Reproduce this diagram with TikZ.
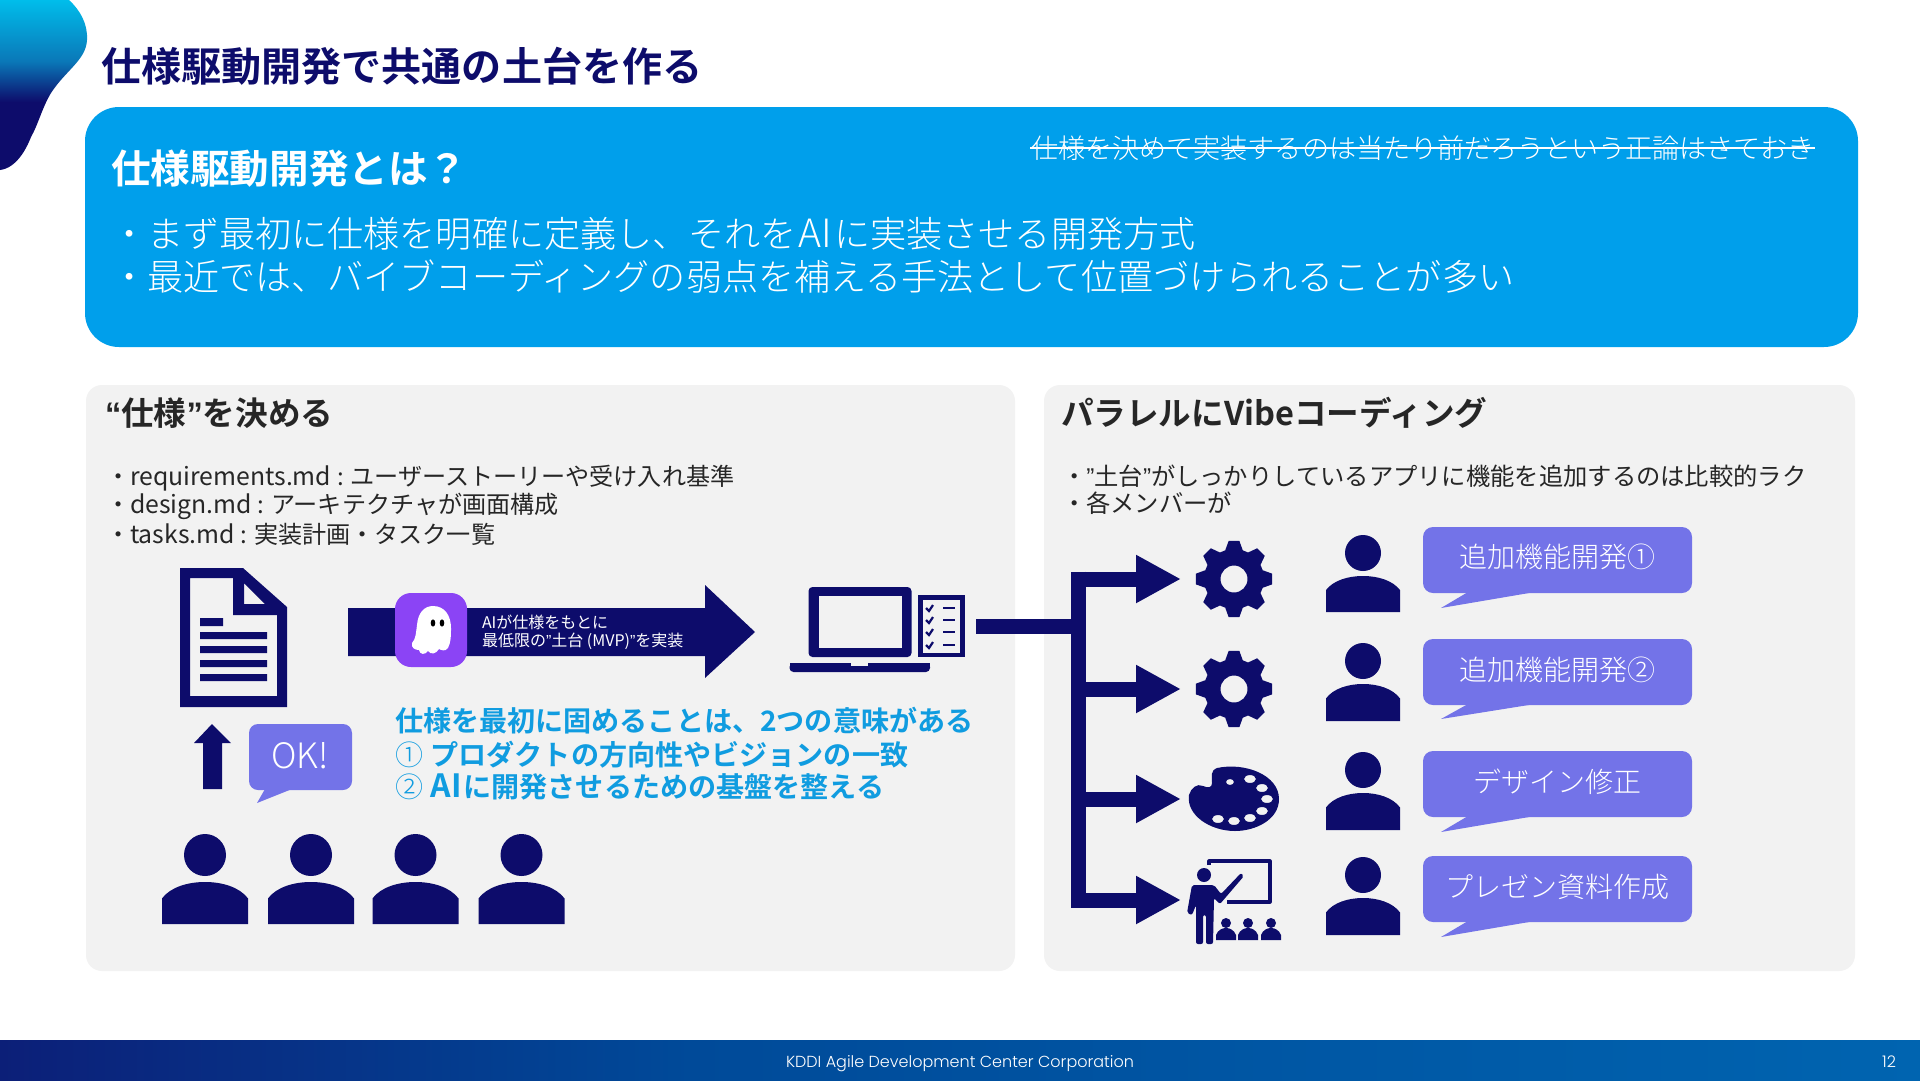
\documentclass[tikz,border=0pt]{standalone}
\usepackage{fontspec}
\usetikzlibrary{arrows.meta,calc}
\setmainfont{Noto Sans CJK JP Light}[BoldFont={Noto Sans CJK JP Bold}]
\newfontfamily\regf{Noto Sans CJK JP}
\newfontfamily\qfont{Liberation Sans}
\newfontfamily\footfont{Poppins Light}
\definecolor{navy}{HTML}{0D0C6B}
\definecolor{skyb}{HTML}{009FEB}
\definecolor{panelg}{HTML}{F2F2F2}
\definecolor{bubble}{HTML}{7373E8}
\definecolor{ghostp}{HTML}{8B44F5}
\definecolor{tealtext}{HTML}{109CE0}
\definecolor{darktext}{HTML}{262626}
\definecolor{blobtop}{HTML}{00BDEB}
\definecolor{blobmid}{HTML}{0A78B8}
\definecolor{footl}{HTML}{0C1F78}
\definecolor{footm}{HTML}{004A99}
\definecolor{footr}{HTML}{0064B0}
\pgfdeclareverticalshading{blobshade}{100bp}{color(0bp)=(navy);color(45bp)=(navy);color(57bp)=(blobmid);color(75bp)=(blobtop);color(100bp)=(blobtop)}
\pgfdeclarehorizontalshading{footshade}{100bp}{color(0bp)=(footl);color(25bp)=(footl);color(43bp)=(footm);color(75bp)=(footr);color(100bp)=(footr)}
\newcommand\fs[1]{\fontsize{#1}{#1}\selectfont}
\newcommand\qo{{\qfont “}}
\newcommand\qc{{\qfont ”}}
% cx, head cy, head r, half width, body top, body bottom
\newcommand\personfig[6]{%
  \fill[navy] (#1,#2) circle[radius=#3];
  \fill[navy] ({#1-#4},#6) -- ({#1-#4},{#5+0.39*(#6-#5)})
    .. controls ({#1-0.8*#4},{#5+0.12*(#6-#5)}) and ({#1-0.4*#4},#5) .. (#1,#5)
    .. controls ({#1+0.4*#4},#5) and ({#1+0.8*#4},{#5+0.12*(#6-#5)}) .. ({#1+#4},{#5+0.39*(#6-#5)})
    -- ({#1+#4},#6) -- cycle;}
% cx cy
\newcommand\gearfig[2]{%
  \begin{scope}[shift={(#1,#2)}]
  \fill[navy,even odd rule] (-17:30)
    \foreach \a in {0,45,...,315}{ -- ({\a-17}:30) -- ({\a-8}:38.5) -- ({\a+8}:38.5) -- ({\a+17}:30) }
    -- cycle (0,0) circle[radius=13.5];
  \end{scope}}
% left, top, bottom, tail tip y
\newcommand\bubblefig[4]{%
  \fill[bubble,rounded corners=10pt] (1423,#2) rectangle (1692,#3);
  \fill[bubble] (1468,{#3-1}) -- (1441,#4) -- (1535,{#3-1}) -- cycle;}
\newcommand\mdgap{\hspace{6pt}:\hspace{6.5pt}}
\tikzset{
  txt/.style={inner sep=0pt,outer sep=0pt,anchor=base west},
  ctxt/.style={inner sep=0pt,outer sep=0pt,anchor=base},
  flow/.style={draw=navy,line width=15pt},
  flowtip/.style={flow,-{Triangle[length=45pt,width=45pt,fill=navy]}}
}
\begin{document}
\begin{tikzpicture}[x=1pt,y=-1pt]
\useasboundingbox (0,0) rectangle (1920,1080);
\fill[white] (0,0) rectangle (1920,1080);
% corner blob
\shade[shading=blobshade] (0,0) -- (69,0) .. controls (80,10) and (88,24) .. (87,40)
  .. controls (86,60) and (66,70) .. (51,93) .. controls (42,108) and (38,125) .. (31,137)
  .. controls (26,150) and (16,168) .. (0,170) -- cycle;
% footer
\shade[shading=footshade] (0,1040) rectangle (1920,1080);
\node[ctxt,text=white,font=\footfont\fs{16}] (foot) at (960,1067) {KDDI Agile Development Center Corporation};
\node[ctxt,text=white,font=\footfont\fs{16}] (pageno) at (1889,1067) {12};
% title
\node[txt,text=navy,font=\bfseries\fs{40.1}] (title) at (101,81) {仕様駆動開発で共通の土台を作る};
% blue box
\fill[skyb,rounded corners=34pt] (85,107) rectangle (1858,347);
\node[txt,text=white,font=\bfseries\fs{39.6}] (bluehead) at (111,183) {仕様駆動開発とは？};
\node[txt,text=white,font=\fs{27.1}] (aside) at (1031,158) {仕様を決めて実装するのは当たり前だろうという正論はさておき};
\draw[white,line width=1.5pt] ($(aside.base west)+(-1,-10)$) -- ($(aside.base east)+(1,-10)$);
\node[txt,text=white,font=\fs{36.1}] (blueA) at (111,247) {・まず最初に仕様を明確に定義し、それを\hspace{2pt}{\fs{39}AI}\hspace{2pt}に実装させる開発方式};
\node[txt,text=white,font=\fs{36.1}] (blueB) at (111,290) {・最近では、バイブコーディングの弱点を補える手法として位置づけられることが多い};
% panels
\fill[panelg,rounded corners=16pt] (86,385) rectangle (1015,971);
\fill[panelg,rounded corners=16pt] (1044,385) rectangle (1855,971);
% left texts
\node[txt,text=darktext,font=\bfseries\fs{32.6}] (lhead) at (105,425) {\qo 仕様\qc を決める};
\node[txt,text=darktext,font=\regf\fs{24.1}] (l1) at (106,485) {・{\fs{24.8}requirements.md}\mdgap ユーザーストーリーや受け入れ基準};
\node[txt,text=darktext,font=\regf\fs{24.1}] (l2) at (106,513) {・{\fs{24.8}design.md}\mdgap アーキテクチャが画面構成};
\node[txt,text=darktext,font=\regf\fs{24.1}] (l3) at (106,543) {・{\fs{24.8}tasks.md}\mdgap 実装計画・タスク一覧};
% right texts
\node[txt,text=darktext,font=\bfseries\fs{32.6}] (rhead) at (1061,425) {パラレルにVibeコーディング};
\node[txt,text=darktext,font=\regf\fs{24.3}] (r1) at (1062,485) {・\qc 土台\qc がしっかりしているアプリに機能を追加するのは比較的ラク};
\node[txt,text=darktext,font=\regf\fs{24.3}] (r2) at (1062,512) {・各メンバーが};
% document icon
\fill[navy,even odd rule] (180,568) -- (243,568) -- (287,607) -- (287,707) -- (180,707) -- cycle
  (190,578) -- (233,578) -- (233,615) -- (277,615) -- (277,696) -- (190,696) -- cycle
  (244,583) -- (265,604) -- (244,604) -- cycle;
\fill[navy] (200,618) rectangle (223,626) (200,632) rectangle (267,639) (200,646) rectangle (267,653) (200,660) rectangle (267,667) (200,674) rectangle (267,681);
% up arrow
\fill[navy] (212,724) -- (231,743) -- (222,743) -- (222,789) -- (203,789) -- (203,743) -- (194,743) -- cycle;
% OK bubble
\fill[bubble,rounded corners=9pt] (249,724) rectangle (352,790);
\fill[bubble] (265,789) -- (257,803) -- (292,789) -- cycle;
\node[ctxt,text=white,font=\fs{35}] (ok) at (300,768) {OK!};
% people
\personfig{205}{855}{21}{43}{882}{924}
\personfig{311}{855}{21}{43}{882}{924}
\personfig{415.5}{855}{21}{43}{882}{924}
\personfig{521.5}{855}{21}{43}{882}{924}
% big arrow
\fill[navy] (348,608) -- (705,608) -- (705,585) -- (755,632) -- (705,678) -- (705,656) -- (348,656) -- cycle;
\fill[ghostp,rounded corners=16pt] (395,593) rectangle (467,667);
\fill[white] (433,606) .. controls (445,606) and (451,616) .. (451,628) .. controls (451,636) and (451,642) .. (448,648)
  .. controls (445,652) and (441,650) .. (439,649) .. controls (436,654) and (431,655) .. (428,651)
  .. controls (425,655) and (420,655) .. (419,650) .. controls (415,650) and (411,648) .. (412,643)
  .. controls (416,639) and (416,632) .. (417,625) .. controls (418,613) and (424,606) .. (433,606) -- cycle;
\fill[black] (433,623) ellipse[x radius=2.3,y radius=3.6] (442,623) ellipse[x radius=2.3,y radius=3.6];
\node[txt,text=white,font=\regf\fs{16}] (ar1) at (482,628) {AIが仕様をもとに};
\node[txt,text=white,font=\regf\fs{16}] (ar2) at (482,646) {最低限の\qc 土台 (MVP)\qc を実装};
% laptop
\fill[navy,rounded corners=4pt] (808.5,657) -- (808.5,587) -- (911.5,587) -- (911.5,657) -- cycle;
\fill[panelg] (818.5,596) rectangle (902,648);
\fill[navy,rounded corners=4pt] (789.5,663) -- (930,663) -- (930,672) -- (789.5,672) -- cycle;
\fill[navy] (789.5,663) rectangle (930,667);
\fill[panelg] (851,663) rectangle (868,665.5);
% checklist
\fill[navy] (917.5,595) rectangle (964.5,657);
\fill[panelg] (922.5,600) rectangle (960,653);
\foreach \yy in {608,620,632,645}{
  \draw[navy,line width=2.2pt] (926,\yy) -- (929,{\yy+3}) -- (933,{\yy-3});
  \draw[navy,line width=2.8pt] (943,\yy) -- (954.5,\yy);
}
% teal text
\node[txt,text=tealtext,font=\bfseries\fs{28.1}] (t1) at (395,731) {仕様を最初に固めることは、2つの意味がある};
\node[txt,text=tealtext,font=\bfseries\fs{28.1}] (t2) at (395,765) {\makebox[35.5pt][l]{\mdseries ①}プロダクトの方向性やビジョンの一致};
\node[txt,text=tealtext,font=\bfseries\fs{28.1}] (t3) at (395,797) {\makebox[35.5pt][l]{\mdseries ②}{\fs{32}AI}\hspace{2pt}に開発させるための基盤を整える};
% connectors
\coordinate (lapout) at (976,626);
\coordinate (junc) at (1086,626);
\coordinate (stemtop) at (1078.5,571.5);
\coordinate (stembot) at (1078.5,907.5);
\coordinate (b1) at (1071,579);
\coordinate (b2) at (1071,689);
\coordinate (b3) at (1071,799);
\coordinate (b4) at (1071,900);
\coordinate (g1) at (1181,579);
\coordinate (g2) at (1181,689);
\coordinate (g3) at (1181,799);
\coordinate (g4) at (1181,900);
\draw[flow] (lapout) -- (junc);
\draw[flow] (stemtop) -- (stembot);
\draw[flowtip] (b1) -- (g1);
\draw[flowtip] (b2) -- (g2);
\draw[flowtip] (b3) -- (g3);
\draw[flowtip] (b4) -- (g4);
% gears
\gearfig{1234}{579}
\gearfig{1234}{689}
% palette
\fill[navy,even odd rule] (1217,768) .. controls (1245,762) and (1279,775) .. (1279,799)
  .. controls (1279,820) and (1255,831) .. (1235,831) .. controls (1210,831) and (1186,815) .. (1189,795)
  .. controls (1191,788) and (1197,783) .. (1203,786) .. controls (1208,788) and (1212,788) .. (1212,783)
  .. controls (1212,776) and (1210,771) .. (1217,768) -- cycle
  (1230,782) ellipse[x radius=4,y radius=3]
  (1250,779) ellipse[x radius=6,y radius=4]
  (1262,788) ellipse[x radius=6,y radius=4]
  (1267,799) ellipse[x radius=6,y radius=4]
  (1262,811) ellipse[x radius=6,y radius=4]
  (1250,818) ellipse[x radius=6,y radius=4]
  (1234,821) ellipse[x radius=6,y radius=4]
  (1218,819) ellipse[x radius=6,y radius=4];
% presenter
\draw[navy,line width=3.2pt,line join=round] (1209,865) -- (1209,861) -- (1270,861) -- (1270,902) -- (1227,902);
\fill[navy] (1204,875) circle[radius=7];
\fill[navy,rounded corners=2pt] (1192,885) -- (1214,885) -- (1221,894) -- (1241,873) -- (1244,876) -- (1220,904) -- (1214,898) -- (1213,944) -- (1206,944) -- (1206,915) -- (1203,915) -- (1203,944) -- (1196,944) -- (1196,905) -- (1192,915) -- (1187,913) -- cycle;
\foreach \cx in {1226,1248,1271}{
  \fill[navy] (\cx,923) circle[radius=5];
  \fill[navy] ({\cx-10},940) -- ({\cx-10},935) .. controls ({\cx-8},930) and ({\cx-4},928) .. (\cx,928) .. controls ({\cx+4},928) and ({\cx+8},930) .. ({\cx+10},935) -- ({\cx+10},940) -- cycle;
}
% right people
\personfig{1363}{553}{18}{37}{576}{612}
\personfig{1363}{661}{18}{37}{684}{721}
\personfig{1363}{770}{18}{37}{793}{830}
\personfig{1363}{875}{18}{37}{898}{935}
% bubbles
\bubblefig{1423}{527}{593}{608}
\bubblefig{1423}{639}{705}{719}
\bubblefig{1423}{751}{817}{832}
\bubblefig{1423}{856}{922}{937}
\node[ctxt,text=white,font=\fs{28}] (s1) at (1557,567) {追加機能開発①};
\node[ctxt,text=white,font=\fs{28}] (s2) at (1557,680) {追加機能開発②};
\node[ctxt,text=white,font=\fs{28}] (s3) at (1557,792) {デザイン修正};
\node[ctxt,text=white,font=\fs{28}] (s4) at (1557,897) {プレゼン資料作成};
\end{tikzpicture}
\end{document}
